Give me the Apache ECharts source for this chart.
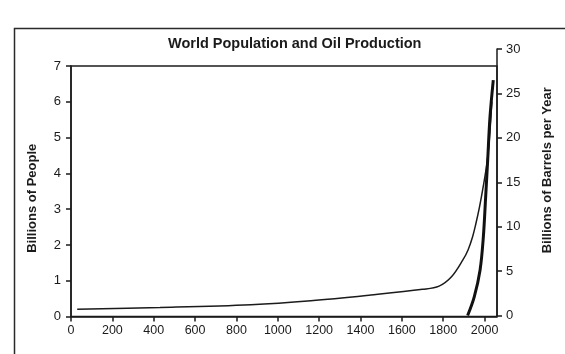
<!DOCTYPE html>
<html>
<head>
<meta charset="utf-8">
<script src="https://cdn.jsdelivr.net/npm/echarts@6/dist/echarts.min.js"></script>
<style>
html,body{margin:0;padding:0;background:#fff;}
#c{width:565px;height:354px;}
</style>
</head>
<body>
<div id="c"></div>
<script>
// Data
var popYears  = [30, 430, 870, 1160, 1450, 1700, 1780, 1840, 1895, 1920, 1942, 1958, 1975, 1991, 2013, 2025, 2035];
var popValues = [0.2, 0.25, 0.33, 0.44, 0.60, 0.76, 0.85, 1.11, 1.58, 1.86, 2.23, 2.6, 3.05, 3.55, 4.35, 5.1, 6.0];
var oilYears  = [1918, 1950, 1978, 1994, 2005, 2015, 2026, 2042];
var oilValues = [0, 2.1, 5.1, 8.85, 13.3, 17.5, 22.3, 26.5];
var xTicks = [0, 200, 400, 600, 800, 1000, 1200, 1400, 1600, 1800, 2000];
var leftTicks = [0, 1, 2, 3, 4, 5, 6, 7];
var rightTicks = [0, 5, 10, 15, 20, 25, 30];

var FONT = '"Liberation Sans", Arial, Helvetica, sans-serif';
var INK = '#1b1b1b';

function pairs(xs, ys) { return xs.map(function (x, i) { return [x, ys[i]]; }); }

var chart = echarts.init(document.getElementById('c'), null, {renderer: 'canvas'});
chart.setOption({
  backgroundColor: '#ffffff',
  animation: false,
  title: {
    text: 'World Population and Oil Production',
    left: 163, top: 31,
    textStyle: {fontFamily: FONT, fontSize: 14.5, fontWeight: 'bold', color: INK}
  },
  graphic: [{
    type: 'rect', left: 12, top: 26, silent: true,
    shape: {x: 0, y: 0, width: 620, height: 400},
    style: {fill: 'none', stroke: '#2a2a2a', lineWidth: 1.5}
  }],
  grid: [
    {left: 71, right: 68, top: 66, bottom: 37.5, show: true, borderColor: INK, borderWidth: 1.5, backgroundColor: 'transparent'},
    {left: 71, right: 68, top: 49, bottom: 38.5}
  ],
  xAxis: [
    {
      type: 'value', gridIndex: 0, min: xTicks[0], max: 2060, interval: 200,
      axisLine: {show: true, onZero: false, lineStyle: {color: INK, width: 1.5}},
      axisTick: {show: true, length: 5, lineStyle: {color: INK, width: 1.5}},
      axisLabel: {color: INK, fontFamily: FONT, fontSize: 12.5, margin: 8, showMaxLabel: false,
        formatter: function (v) { return xTicks.indexOf(v) >= 0 ? String(v) : ''; }},
      splitLine: {show: false}
    },
    {type: 'value', gridIndex: 1, min: xTicks[0], max: 2060, show: false, splitLine: {show: false},
      axisLine: {onZero: false}}
  ],
  yAxis: [
    {
      type: 'value', gridIndex: 0, position: 'left', min: leftTicks[0], max: leftTicks[leftTicks.length - 1], interval: 1,
      name: 'Billions of People', nameLocation: 'middle', nameGap: 32, nameRotate: 90,
      nameTextStyle: {fontFamily: FONT, fontSize: 13, fontWeight: 'bold', color: INK, padding: [0, 14, 0, 0]},
      axisLine: {show: true, onZero: false, lineStyle: {color: INK, width: 1.5}},
      axisTick: {show: true, length: 5, lineStyle: {color: INK, width: 1.5}},
      axisLabel: {color: INK, fontFamily: FONT, fontSize: 13, margin: 10},
      splitLine: {show: false}
    },
    {
      type: 'value', gridIndex: 1, position: 'right', min: rightTicks[0], max: rightTicks[rightTicks.length - 1], interval: 5,
      name: 'Billions of Barrels per Year', nameLocation: 'middle', nameGap: 44, nameRotate: 90,
      nameTextStyle: {fontFamily: FONT, fontSize: 13, fontWeight: 'bold', color: INK, padding: [0, 0, 0, 24]},
      axisLine: {show: true, onZero: false, lineStyle: {color: INK, width: 1.5}},
      axisTick: {show: true, length: 5, lineStyle: {color: INK, width: 1.5}},
      axisLabel: {color: INK, fontFamily: FONT, fontSize: 13, margin: 9},
      splitLine: {show: false}
    }
  ],
  series: [
    {
      name: 'Population', type: 'line', xAxisIndex: 0, yAxisIndex: 0,
      data: pairs(popYears, popValues), showSymbol: false, smooth: 0.35,
      lineStyle: {color: INK, width: 1.5}
    },
    {
      name: 'Oil', type: 'line', xAxisIndex: 1, yAxisIndex: 1,
      data: pairs(oilYears, oilValues), showSymbol: false, smooth: 0.35,
      lineStyle: {color: '#111', width: 3}
    }
  ]
});
</script>
</body>
</html>
